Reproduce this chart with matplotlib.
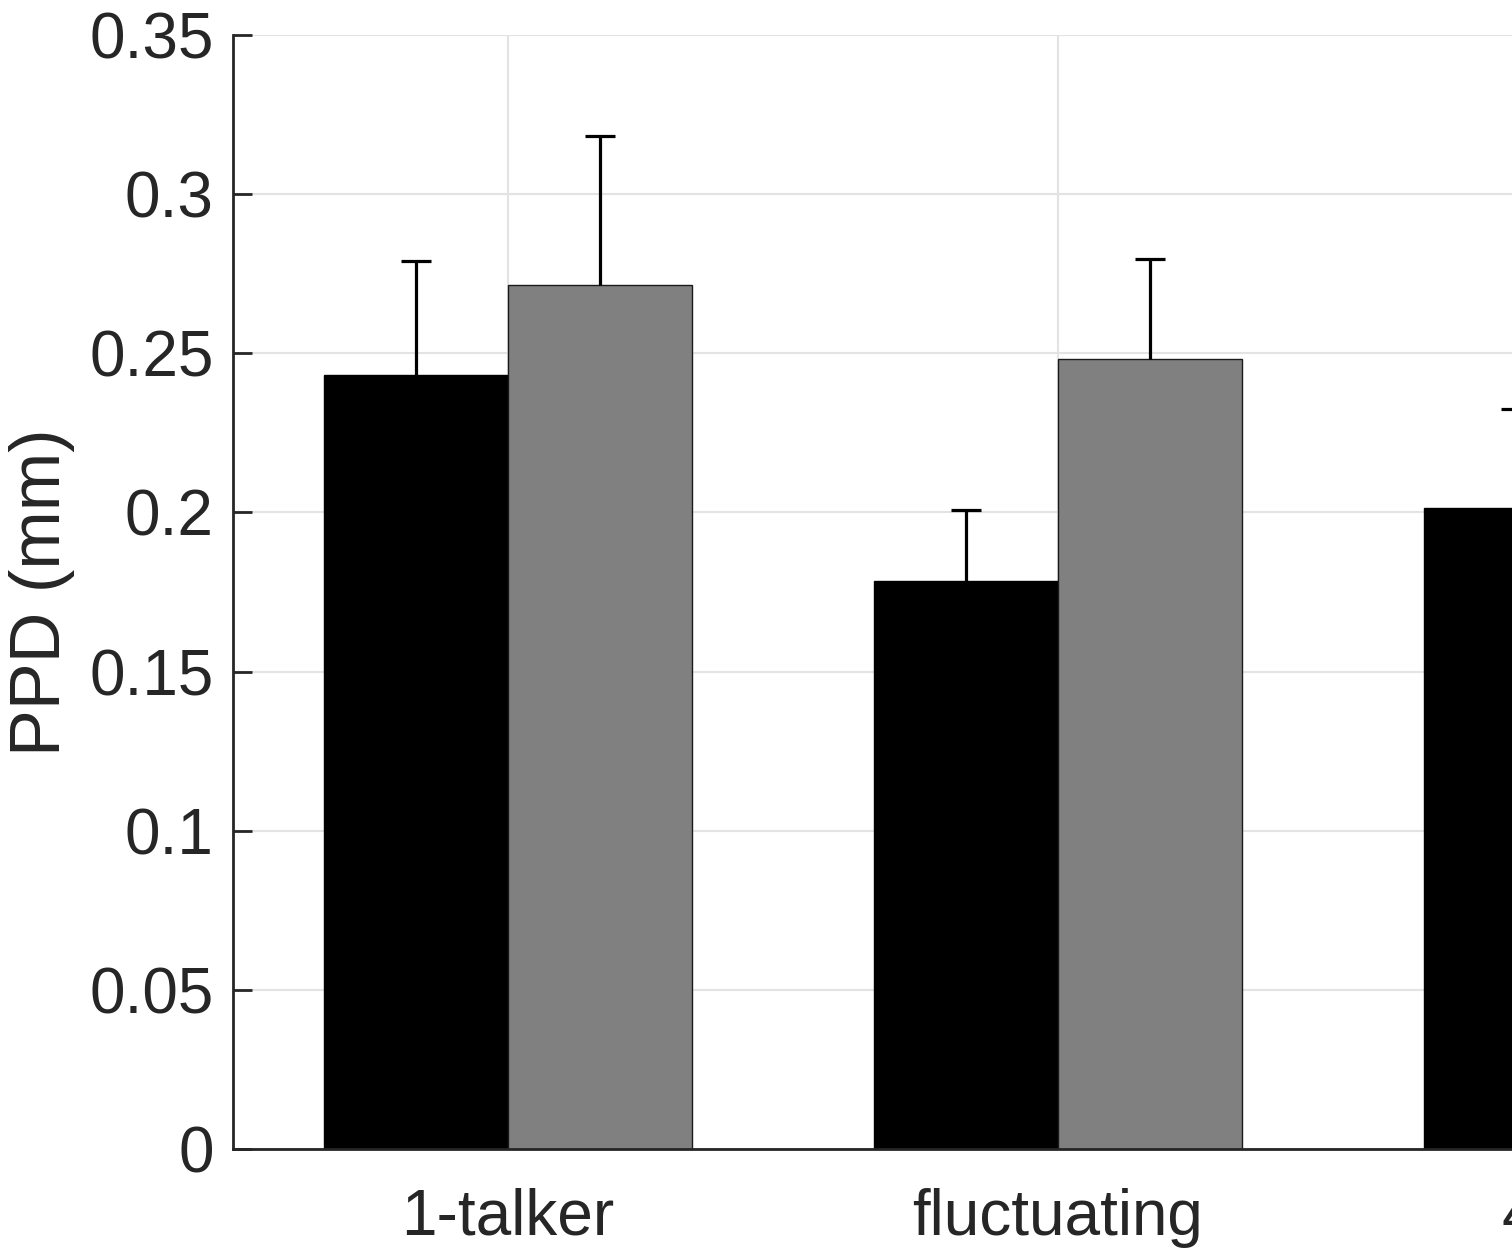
import numpy as np
import matplotlib
matplotlib.use("Agg")
import matplotlib.pyplot as plt

plt.rcParams['font.family'] = ['Liberation Sans', 'DejaVu Sans']

categories = ['1-talker', 'fluctuating', '4-talker']
black_vals = [0.2432, 0.1785, 0.2014]
black_err = [0.0358, 0.0223, 0.0311]
grey_vals = [0.2714, 0.2482, 0.2300]
grey_err = [0.0469, 0.0314, 0.0300]
yticks = [0, 0.05, 0.1, 0.15, 0.2, 0.25, 0.3, 0.35]
ytick_labels = ['0', '0.05', '0.1', '0.15', '0.2', '0.25', '0.3', '0.35']

fig = plt.figure(figsize=(15.12, 12.53), dpi=100)
ax = fig.add_axes([233 / 1512, 104 / 1253, 1650 / 1512, 1114 / 1253])

x = np.arange(1, len(categories) + 1)
w = 0.334
ax.bar(x - w / 2, black_vals, w, color='black', edgecolor='black',
       linewidth=1.0, zorder=2)
ax.bar(x + w / 2, grey_vals, w, color='#808080', edgecolor='#1a1a1a',
       linewidth=1.0, zorder=2)
for xs, vals, errs in [(x - w / 2, black_vals, black_err),
                       (x + w / 2, grey_vals, grey_err)]:
    eb = ax.errorbar(xs, vals, yerr=[np.zeros(len(errs)), errs], fmt='none',
                     ecolor='black', elinewidth=2.3, capsize=10.5,
                     capthick=2.3, zorder=3)
    # only the upper cap, like the original
    eb[1][0].set_visible(False)

ax.set_xlim(0.5, len(categories) + 0.5)
ax.set_ylim(0, 0.35)
ax.set_xticks(x)
ax.set_xticklabels(categories)
ax.set_yticks(yticks)
ax.set_yticklabels(ytick_labels)
ax.set_ylabel('PPD (mm)', fontsize=50.5, color='#262626', labelpad=10)

ax.grid(True, color='#e3e3e3', linewidth=1.5, zorder=0)
ax.set_axisbelow(True)
for s in ['top', 'right']:
    ax.spines[s].set_visible(False)
for s in ['left', 'bottom']:
    ax.spines[s].set_color('#262626')
    ax.spines[s].set_linewidth(2.0)
ax.tick_params(axis='both', direction='in', length=14, width=2.0,
               colors='#262626', labelsize=46)
ax.tick_params(axis='y', pad=14)
ax.tick_params(axis='x', pad=28)

fig.savefig('out.png', dpi=100)
